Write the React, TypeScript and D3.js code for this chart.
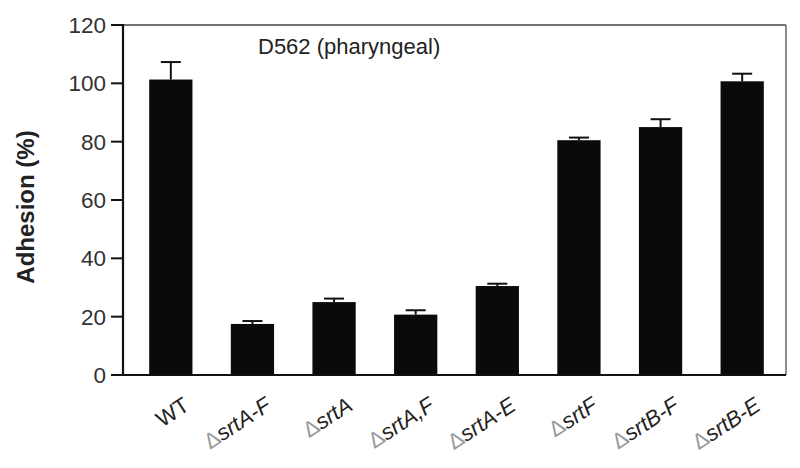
import React from "react";
import * as d3 from "d3";

const categories = ["WT", "ΔsrtA-F", "ΔsrtA", "ΔsrtA,F", "ΔsrtA-E", "ΔsrtF", "ΔsrtB-F", "ΔsrtB-E"];
const values = [101.3, 17.5, 25, 20.7, 30.5, 80.5, 85, 100.7];
const errors = [6, 1, 1.2, 1.5, 0.8, 0.9, 2.7, 2.6];
const yTicks = [0, 20, 40, 60, 80, 100, 120];
const title = "D562 (pharyngeal)";
const yLabel = "Adhesion (%)";

const W = 800, H = 468;
const left = 123, right = 786, top = 25, bottom = 375;

export default function App() {
  const x = d3.scaleBand<string>().domain(categories).range([130, 783]).padding(0);
  const y = d3.scaleLinear().domain([0, 120]).range([bottom, top]);
  const bw = x.bandwidth() * 0.53;
  const font = "Liberation Sans, Arial, sans-serif";
  return (
    <svg width={W} height={H} style={{ position: "absolute", left: 0, top: 0, background: "#fff" }} fontFamily={font}>
      <rect x={0} y={0} width={W} height={H} fill="#fff" />
      {/* frame */}
      <line x1={left} x2={right} y1={top} y2={top} stroke="#444" strokeWidth={1.5} />
      <line x1={right} x2={right} y1={top} y2={bottom} stroke="#666" strokeWidth={1.5} />
      {/* bars */}
      {categories.map((c, i) => {
        const cx = x(c)! + x.bandwidth() / 2;
        const v = values[i];
        const e = v + errors[i];
        return (
          <g key={c}>
            <line x1={cx} x2={cx} y1={y(v)} y2={y(e)} stroke="#111" strokeWidth={2} />
            <line x1={cx - 10} x2={cx + 10} y1={y(e)} y2={y(e)} stroke="#111" strokeWidth={2} />
            <rect x={cx - bw / 2} y={y(v)} width={bw} height={bottom - y(v)} fill="#0a0a0a" />
          </g>
        );
      })}
      {/* axes */}
      <line x1={left} x2={left} y1={top - 1} y2={bottom + 1} stroke="#111" strokeWidth={2.2} />
      <line x1={left - 12} x2={right} y1={bottom} y2={bottom} stroke="#111" strokeWidth={2.2} />
      {yTicks.map((t) => (
        <g key={t}>
          <line x1={left - 12} x2={left} y1={y(t)} y2={y(t)} stroke="#111" strokeWidth={2} />
          <text x={left - 17} y={y(t)} dy="0.36em" textAnchor="end" fontSize={22.5} fill="#333">
            {t}
          </text>
        </g>
      ))}
      <text
        transform={`translate(34,207) rotate(-90)`}
        textAnchor="middle"
        fontSize={24}
        fontWeight="bold"
        fill="#222"
      >
        {yLabel}
      </text>
      <text x={258} y={54} fontSize={22} fill="#222">
        {title}
      </text>
      {categories.map((c) => {
        const cx = x(c)! + x.bandwidth() / 2;
        const isDelta = c.startsWith("Δ");
        return (
          <text
            key={c}
            transform={`translate(${cx + 20},${409}) rotate(-33)`}
            textAnchor="end"
            fontSize={22}
            fill="#222"
          >
            {isDelta ? (
              <>
                <tspan fill="#999">Δ</tspan>
                <tspan fontStyle="italic">{c.slice(1)}</tspan>
              </>
            ) : (
              c
            )}
          </text>
        );
      })}
    </svg>
  );
}
